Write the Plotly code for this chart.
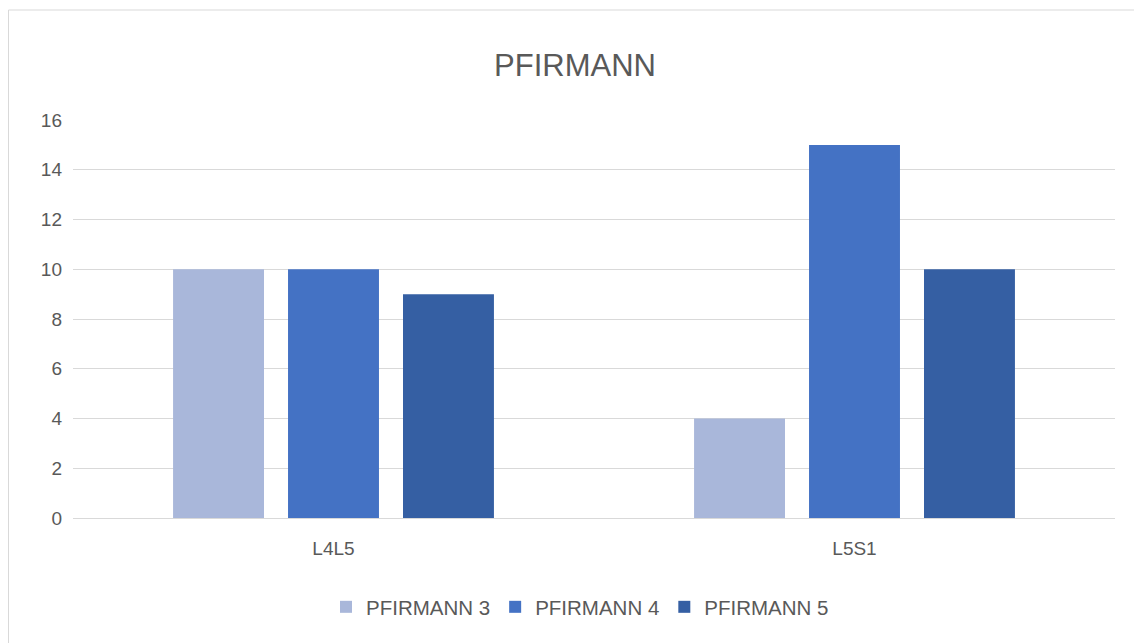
import plotly.graph_objects as go

categories = ['L4L5', 'L5S1']
pfirmann3 = [10, 4]
pfirmann4 = [10, 15]
pfirmann5 = [9, 10]
series_names = ['PFIRMANN 3', 'PFIRMANN 4', 'PFIRMANN 5']
colors = ['#A9B7DA', '#4472C4', '#355FA3']

W, H = 1134, 635
L, R, T, B = 65, 27, 112, 125
pw, ph = W - L - R, H - T - B

fig = go.Figure()
for name, vals, col in zip(series_names, [pfirmann3, pfirmann4, pfirmann5], colors):
    fig.add_trace(go.Bar(x=categories, y=vals, name=name, marker=dict(color=col, line=dict(width=0))))

# outer chart border
fig.add_shape(type='rect', xref='paper', yref='paper',
              x0=(0.5 - L) / pw, x1=(W + 5 - L) / pw,
              y0=(T + ph - H - 5) / ph, y1=(T + ph - 2) / ph,
              line=dict(color='#D9D9D9', width=1))

fig.update_layout(
    width=W, height=H,
    margin=dict(l=L, r=R, t=T, b=B),
    paper_bgcolor='white', plot_bgcolor='white',
    font=dict(family='Liberation Sans, Arial, sans-serif', color='#595959', size=19),
    title=dict(text='PFIRMANN', x=0.5, xanchor='center', y=1 - 57 / H, yanchor='middle',
               font=dict(size=31, color='#595959')),
    barmode='group', bargap=0.338, bargroupgap=0.209,
    legend=dict(orientation='h', x=0.5 - 14 / pw, xanchor='center', y=-0.2236, yanchor='middle',
                font=dict(size=20.5, color='#595959'), itemwidth=30),
)
fig.update_yaxes(range=[0, 16], dtick=2, gridcolor='#D9D9D9', gridwidth=1,
                 zeroline=True, zerolinecolor='#D9D9D9', zerolinewidth=1,
                 showline=False, ticks='', ticklabelstandoff=10)
fig.update_xaxes(showline=False, showgrid=False, ticks='', ticklabelstandoff=17)

fig.write_html('out.html')
